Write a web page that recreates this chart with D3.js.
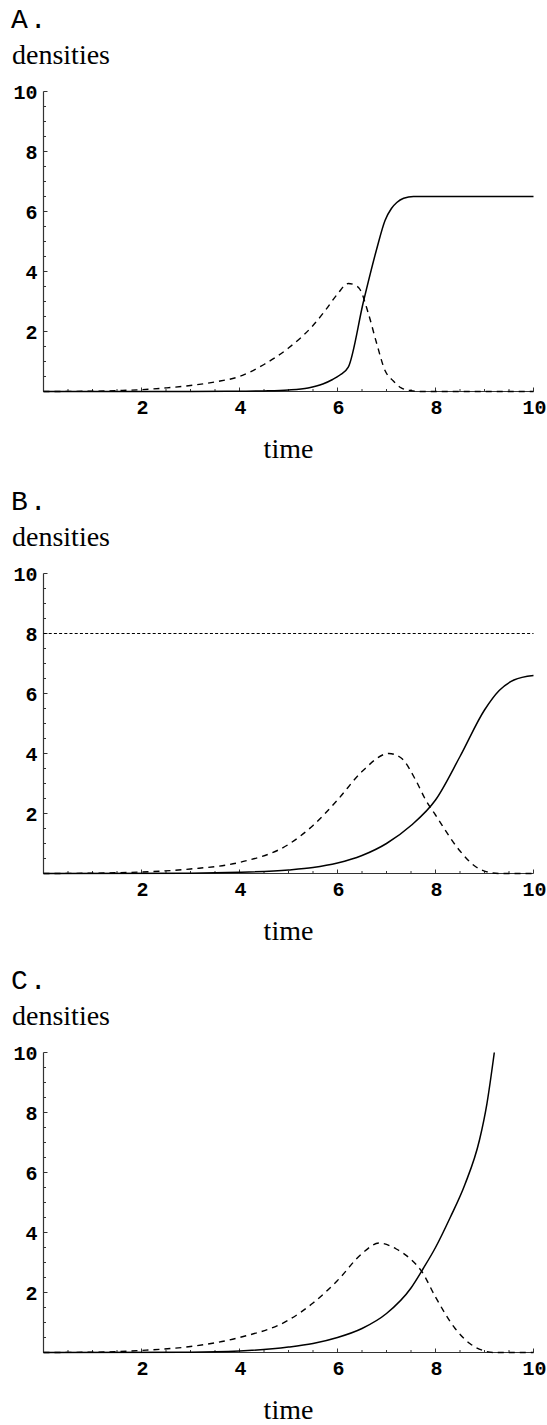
<!DOCTYPE html>
<html><head><meta charset="utf-8">
<script src="https://cdn.jsdelivr.net/npm/d3@7"></script>
<style>
html,body{margin:0;padding:0;background:#fff;}
svg{display:block;}
</style></head>
<body>
<script>
// ---- data ----
const panelLabels = ["A.", "B.", "C."];
const xTicks = [2, 4, 6, 8, 10];
const yTicks = [2, 4, 6, 8, 10];
const xTitle = "time";
const yTitle = "densities";

// Panel A
const timeA_solid = [0, 3, 4, 4.5, 5, 5.4, 5.7, 5.9, 6.05, 6.22, 6.53, 6.8, 6.97, 7.1, 7.21, 7.35, 7.55, 8, 10];
const valA_solid  = [0, 0, 0.01, 0.02, 0.05, 0.12, 0.25, 0.4, 0.55, 0.81, 3.0, 4.75, 5.7, 6.1, 6.3, 6.44, 6.5, 6.5, 6.5];
const timeA_dash  = [0, 1, 1.5, 2, 2.5, 3, 3.5, 4, 4.5, 5, 5.5, 5.75, 6, 6.22, 6.35, 6.46, 6.63, 6.8, 6.97, 7.14, 7.3, 7.5, 7.7, 10];
const valA_dash   = [0, 0.01, 0.03, 0.06, 0.12, 0.2, 0.32, 0.5, 0.9, 1.45, 2.2, 2.7, 3.25, 3.6, 3.55, 3.4, 2.6, 1.6, 0.7, 0.35, 0.12, 0.03, 0, 0];

// Panel B
const timeB_solid = [0, 3, 4, 5, 5.5, 6, 6.5, 7, 7.5, 8, 8.5, 9, 9.3, 9.6, 10];
const valB_solid  = [0, 0.01, 0.04, 0.12, 0.2, 0.35, 0.6, 1.0, 1.6, 2.45, 3.9, 5.45, 6.1, 6.45, 6.6];
const timeB_dash  = [0, 1, 2, 3, 4, 5, 5.5, 6, 6.5, 7.05, 7.3, 7.6, 7.8, 8, 8.5, 8.8, 9, 9.3, 10];
const valB_dash   = [0, 0.01, 0.05, 0.15, 0.37, 0.97, 1.6, 2.45, 3.4, 4.0, 3.85, 3.1, 2.45, 1.95, 0.75, 0.25, 0.08, 0, 0];
const capacityB   = 8;

// Panel C
const timeC_solid = [0, 3, 4, 5, 5.5, 6, 6.5, 7, 7.5, 7.75, 8, 8.3, 8.6, 8.9, 9.05, 9.2];
const valC_solid  = [0, 0.01, 0.05, 0.18, 0.3, 0.5, 0.8, 1.3, 2.15, 2.8, 3.5, 4.5, 5.6, 7.1, 8.3, 10];
const timeC_dash  = [0, 1, 2, 3, 4, 5, 5.5, 6, 6.5, 6.85, 7.2, 7.5, 7.72, 8, 8.4, 8.7, 9, 9.2, 10];
const valC_dash   = [0, 0.01, 0.07, 0.2, 0.5, 1.08, 1.65, 2.4, 3.3, 3.65, 3.45, 3.1, 2.7, 1.85, 0.8, 0.3, 0.05, 0, 0];

// ---- layout ----
const W = 547, H = 1425;
const svg = d3.select("body").append("svg").attr("width", W).attr("height", H);

const panels = [
  {label: panelLabels[0], y0: 391.5, solid: [timeA_solid, valA_solid], dash: [timeA_dash, valA_dash], cap: null},
  {label: panelLabels[1], y0: 873.5, solid: [timeB_solid, valB_solid], dash: [timeB_dash, valB_dash], cap: capacityB},
  {label: panelLabels[2], y0: 1352.5, solid: [timeC_solid, valC_solid], dash: [timeC_dash, valC_dash], cap: null}
];

const x = d3.scaleLinear().domain([0, 10]).range([43.5, 533.5]);
const serif = "'Liberation Serif','Times New Roman',serif";
const mono = "'Liberation Mono','Courier New',monospace";

panels.forEach(p => {
  const y = d3.scaleLinear().domain([0, 10]).range([p.y0, p.y0 - 300]);
  const g = svg.append("g");

  // panel label and y title
  g.append("text").attr("x", 11).attr("y", y(10) - 64)
    .attr("font-family", mono).attr("font-size", 28).attr("letter-spacing", 2)
    .attr("fill", "#000").text(p.label);
  g.append("text").attr("x", 12).attr("y", y(10) - 28)
    .attr("font-family", serif).attr("font-size", 28).attr("fill", "#000").text(yTitle);

  // axes
  const axisColor = "#333";
  g.append("line").attr("x1", x(0)).attr("x2", x(10)).attr("y1", y(0)).attr("y2", y(0))
    .attr("stroke", axisColor).attr("stroke-width", 1.2);
  g.append("line").attr("x1", x(0)).attr("x2", x(0)).attr("y1", y(0)).attr("y2", y(10))
    .attr("stroke", axisColor).attr("stroke-width", 1.2);

  const minor = d3.range(0.5, 10.01, 0.5);
  // x ticks (pointing up)
  g.selectAll(".xt").data(minor).enter().append("line")
    .attr("x1", d => x(d)).attr("x2", d => x(d))
    .attr("y1", y(0)).attr("y2", d => y(0) - (d % 2 === 0 ? 4 : 2.5))
    .attr("stroke", axisColor).attr("stroke-width", 1);
  // y ticks (pointing right)
  g.selectAll(".yt").data(minor).enter().append("line")
    .attr("y1", d => y(d)).attr("y2", d => y(d))
    .attr("x1", x(0)).attr("x2", d => x(0) + (d % 2 === 0 ? 4 : 2.5))
    .attr("stroke", axisColor).attr("stroke-width", 1);

  g.selectAll(".xl").data(xTicks).enter().append("text")
    .attr("x", d => x(d) + 1).attr("y", y(0) + 22)
    .attr("text-anchor", "middle").attr("font-family", mono).attr("font-weight", "bold")
    .attr("font-size", 20).attr("fill", "#000").text(d => d);
  g.selectAll(".yl").data(yTicks).enter().append("text")
    .attr("x", x(0) - 6).attr("y", d => y(d) + 7)
    .attr("text-anchor", "end").attr("font-family", mono).attr("font-weight", "bold")
    .attr("font-size", 20).attr("fill", "#000").text(d => d);

  g.append("text").attr("x", (x(0) + x(10)) / 2).attr("y", y(0) + 66)
    .attr("text-anchor", "middle").attr("font-family", serif).attr("font-size", 28)
    .attr("fill", "#000").text(xTitle);

  // capacity line
  if (p.cap !== null) {
    g.append("line").attr("x1", x(0)).attr("x2", x(10)).attr("y1", y(p.cap)).attr("y2", y(p.cap))
      .attr("stroke", "#000").attr("stroke-width", 1.2).attr("stroke-dasharray", "3,2.2");
  }

  const line = d3.line().x(d => x(d[0])).y(d => y(d[1])).curve(d3.curveMonotoneX);
  const solidPts = p.solid[0].map((t, i) => [t, p.solid[1][i]]);
  const dashPts = p.dash[0].map((t, i) => [t, p.dash[1][i]]);

  g.append("path").attr("d", line(dashPts)).attr("fill", "none")
    .attr("stroke", "#000").attr("stroke-width", 1.4).attr("stroke-dasharray", "6,5");
  g.append("path").attr("d", line(solidPts)).attr("fill", "none")
    .attr("stroke", "#000").attr("stroke-width", 1.5);
});
</script>
</body></html>
